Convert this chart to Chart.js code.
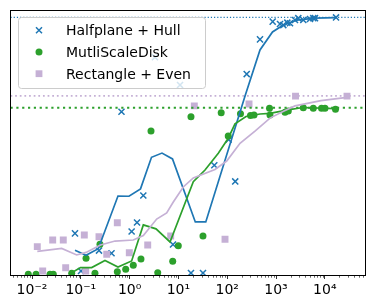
<!DOCTYPE html>
<html><head><meta charset="utf-8">
<script src="https://cdn.jsdelivr.net/npm/chart.js@4"></script>
<style>html,body{margin:0;padding:0;background:#fff;}canvas{display:block;}</style>
</head><body>
<canvas id="c" width="376" height="304"></canvas>
<script>
// ---------- data ----------
const seriesNames = ['Halfplane + Hull', 'MutliScaleDisk', 'Rectangle + Even'];
const tickValues = [0.01, 0.1, 1, 10, 100, 1000, 10000];
const tickLabels = ['10\u207B\u00B2', '10\u207B\u00B9', '10\u2070', '10\u00B9', '10\u00B2', '10\u00B3', '10\u2074'];

const hullX = [0.0760, 0.101, 0.236, 0.426, 0.682, 1.10, 1.42, 1.91, 3.31, 7.75, 10.8, 18.1, 31.9, 54.4, 107, 146, 251, 470, 855, 1208, 1412, 1706, 1936, 2450, 2865, 3625, 4975, 5810, 6295, 16980];
const hullY = [0.157, 0.015, 0.092, 0.082, 0.616, 0.164, 0.198, 0.300, 0.822, 0.115, 0.717, 0.0075, 0.0075, 0.414, 0.511, 0.353, 0.758, 0.889, 0.956, 0.947, 0.943, 0.952, 0.950, 0.962, 0.969, 0.962, 0.966, 0.969, 0.969, 0.972];

const diskX = [0.00839, 0.0121, 0.0234, 0.0273, 0.0651, 0.128, 0.195, 0.247, 0.560, 0.832, 1.19, 1.71, 2.745, 3.77, 7.64, 9.95, 18.1, 31.9, 75.3, 105, 187, 300, 354, 736, 753, 1528, 1786, 3625, 5810, 8560, 10090, 16560];
const diskY = [0.003, 0.003, 0.003, 0.003, 0.0064, 0.063, 0.0064, 0.116, 0.0125, 0.0215, 0.0366, 0.060, 0.543, 0.0087, 0.0517, 0.1106, 0.597, 0.147, 0.612, 0.5245, 0.608, 0.602, 0.604, 0.629, 0.604, 0.614, 0.619, 0.631, 0.629, 0.629, 0.629, 0.625];

const rectX = [0.01284, 0.01656, 0.02654, 0.04375, 0.0490, 0.118, 0.126, 0.236, 0.340, 0.560, 0.986, 2.35, 6.95, 21.2, 90.2, 280, 2512, 28510];
const rectY = [0.107, 0.015, 0.132, 0.132, 0.0275, 0.151, 0.015, 0.1445, 0.078, 0.197, 0.084, 0.113, 0.147, 0.638, 0.135, 0.645, 0.675, 0.675];

const hullLineX = [0.0760, 0.128, 0.228, 0.578, 0.972, 1.673, 2.81, 4.61, 7.57, 22.2, 36.4, 232, 470, 848, 1359, 2692, 6295, 16980];
const hullLineY = [0.093, 0.0743, 0.099, 0.298, 0.297, 0.325, 0.444, 0.460, 0.438, 0.200, 0.200, 0.675, 0.849, 0.917, 0.9415, 0.962, 0.969, 0.971];

const diskLineX = [0.0601, 0.0986, 0.167, 0.313, 0.578, 1.10, 1.91, 3.475, 6.73, 20.2, 35.1, 65.7, 105, 144.5, 243, 470, 753, 1762, 3575, 16180];
const diskLineY = [0.005, 0.028, 0.028, 0.0547, 0.030, 0.053, 0.189, 0.174, 0.1245, 0.352, 0.396, 0.459, 0.516, 0.570, 0.598, 0.6075, 0.610, 0.623, 0.632, 0.628];

const rectLineX = [0.01284, 0.0406, 0.0824, 0.128, 0.253, 0.502, 1.19, 1.91, 3.59, 5.75, 7.86, 12.6, 20.2, 56.2, 97.7, 183, 371, 753, 1459, 2450, 8360, 28510];
const rectLineY = [0.0887, 0.100, 0.0755, 0.085, 0.113, 0.128, 0.132, 0.149, 0.211, 0.234, 0.2755, 0.332, 0.366, 0.398, 0.430, 0.497, 0.543, 0.592, 0.619, 0.638, 0.658, 0.6705];

// best level reached by each method (dotted reference lines)
const bestLevels = [0.972, 0.631, 0.6755];

// ---------- styling / layout ----------
const colors = ['#1f77b4', '#2ca02c', '#c5b0d5'];
const X_MIN = Math.pow(10, -2.4406), X_MAX = Math.pow(10, 4.834);
const Y_MIN = -0.002, Y_MAX = 0.998;
const FONT = '"DejaVu Sans", "Liberation Sans", sans-serif';

const pts = (xs, ys) => xs.map((x, i) => ({x: x, y: ys[i]}));

const dottedW = [1.2, 2.2, 1.75];
const dotted = bestLevels.map((lv, i) => ({
  label: '_ref' + i, data: [{x: X_MIN, y: lv}, {x: X_MAX, y: lv}],
  showLine: true, borderColor: colors[i], borderWidth: dottedW[i],
  borderDash: [dottedW[i], dottedW[i] * 1.65], pointRadius: 0, order: 3 + i, clip: 0
}));

const datasets = [
  {label: seriesNames[0], data: pts(hullX, hullY), showLine: false, pointStyle: 'crossRot',
   pointRadius: 4.3, pointBorderWidth: 1.5, borderColor: colors[0], backgroundColor: colors[0], order: 8, clip: 0},
  {label: seriesNames[1], data: pts(diskX, diskY), showLine: false, pointStyle: 'circle',
   pointRadius: 3.5, pointBorderWidth: 0, borderColor: colors[1], backgroundColor: colors[1], order: 7, clip: 0},
  {label: seriesNames[2], data: pts(rectX, rectY), showLine: false, pointStyle: 'rect',
   pointRadius: 4.9, pointBorderWidth: 0, borderColor: colors[2], backgroundColor: colors[2], order: 6, clip: 0},
  {label: '_line0', data: pts(hullLineX, hullLineY), showLine: true, borderColor: colors[0], borderWidth: 1.7, pointRadius: 0, tension: 0, order: 2, clip: 0},
  {label: '_line1', data: pts(diskLineX, diskLineY), showLine: true, borderColor: colors[1], borderWidth: 1.7, pointRadius: 0, tension: 0, order: 1, clip: 0},
  {label: '_line2', data: pts(rectLineX, rectLineY), showLine: true, borderColor: colors[2], borderWidth: 1.7, pointRadius: 0, tension: 0, order: 0, clip: 0},
  ...dotted
];

const framePlugin = {
  id: 'frame',
  afterDatasetsDraw(chart) {
    const ctx = chart.ctx, a = chart.chartArea;
    ctx.save();
    ctx.strokeStyle = '#000'; ctx.lineWidth = 1;
    ctx.strokeRect(a.left, a.top, a.right - a.left, a.bottom - a.top);
    // minor log ticks
    const s = chart.scales.x;
    ctx.lineWidth = 0.6;
    for (let e = -3; e <= 4; e++) for (let m = 2; m <= 9; m++) {
      const v = m * Math.pow(10, e);
      if (v <= s.min || v >= s.max) continue;
      const p = Math.round(s.getPixelForValue(v)) + 0.5;
      ctx.beginPath(); ctx.moveTo(p, a.bottom); ctx.lineTo(p, a.bottom + 2.2); ctx.stroke();
    }
    ctx.restore();
  }
};

const legendPlugin = {
  id: 'boxLegend',
  afterDraw(chart) {
    const ctx = chart.ctx;
    const bx = 18.5, by = 17.5, bw = 187, bh = 71, r = 3;
    ctx.save();
    ctx.beginPath();
    ctx.moveTo(bx + r, by); ctx.lineTo(bx + bw - r, by); ctx.arcTo(bx + bw, by, bx + bw, by + r, r);
    ctx.lineTo(bx + bw, by + bh - r); ctx.arcTo(bx + bw, by + bh, bx + bw - r, by + bh, r);
    ctx.lineTo(bx + r, by + bh); ctx.arcTo(bx, by + bh, bx, by + bh - r, r);
    ctx.lineTo(bx, by + r); ctx.arcTo(bx, by, bx + r, by, r); ctx.closePath();
    ctx.fillStyle = 'rgba(255,255,255,0.8)'; ctx.fill();
    ctx.strokeStyle = '#cccccc'; ctx.lineWidth = 1; ctx.stroke();
    const baselines = [35, 56.7, 78.5];
    const mx = 39;
    ctx.font = '14px ' + FONT; ctx.fillStyle = '#000'; ctx.textBaseline = 'alphabetic'; ctx.textAlign = 'left';
    seriesNames.forEach((name, i) => {
      const my = baselines[i] - 4.8;
      if (i === 0) {
        const d = 3.0;
        ctx.strokeStyle = colors[0]; ctx.lineWidth = 1.5;
        ctx.beginPath(); ctx.moveTo(mx - d, my - d); ctx.lineTo(mx + d, my + d);
        ctx.moveTo(mx - d, my + d); ctx.lineTo(mx + d, my - d); ctx.stroke();
      } else if (i === 1) {
        ctx.fillStyle = colors[1]; ctx.beginPath(); ctx.arc(mx, my, 3.5, 0, Math.PI * 2); ctx.fill();
      } else {
        ctx.fillStyle = colors[2]; ctx.fillRect(mx - 3.4, my - 3.4, 6.8, 6.8);
      }
      ctx.fillStyle = '#000';
      ctx.fillText(name, 66, baselines[i]);
    });
    ctx.restore();
  }
};

new Chart(document.getElementById('c'), {
  type: 'scatter',
  data: {datasets: datasets},
  options: {
    responsive: false, animation: false, devicePixelRatio: 1,
    layout: {padding: {left: 10.5, right: 10.5, top: 10.5, bottom: 0}},
    plugins: {legend: {display: false}, tooltip: {enabled: false}},
    scales: {
      x: {
        type: 'logarithmic', position: 'bottom', min: X_MIN, max: X_MAX,
        afterBuildTicks: (s) => { s.ticks = tickValues.map(v => ({value: v, major: true})); },
        afterFit: (s) => { s.height = 28.5; },
        border: {display: false},
        grid: {drawOnChartArea: false, drawTicks: true, tickLength: 3.5, tickColor: '#000', tickWidth: 0.8},
        ticks: {autoSkip: false, maxRotation: 0, minRotation: 0, padding: 3, color: '#000',
          font: {family: FONT, size: 14},
          callback: (v, i) => tickLabels[i]}
      },
      y: {type: 'linear', display: false, min: Y_MIN, max: Y_MAX}
    }
  },
  plugins: [framePlugin, legendPlugin]
});
</script>
</body></html>
